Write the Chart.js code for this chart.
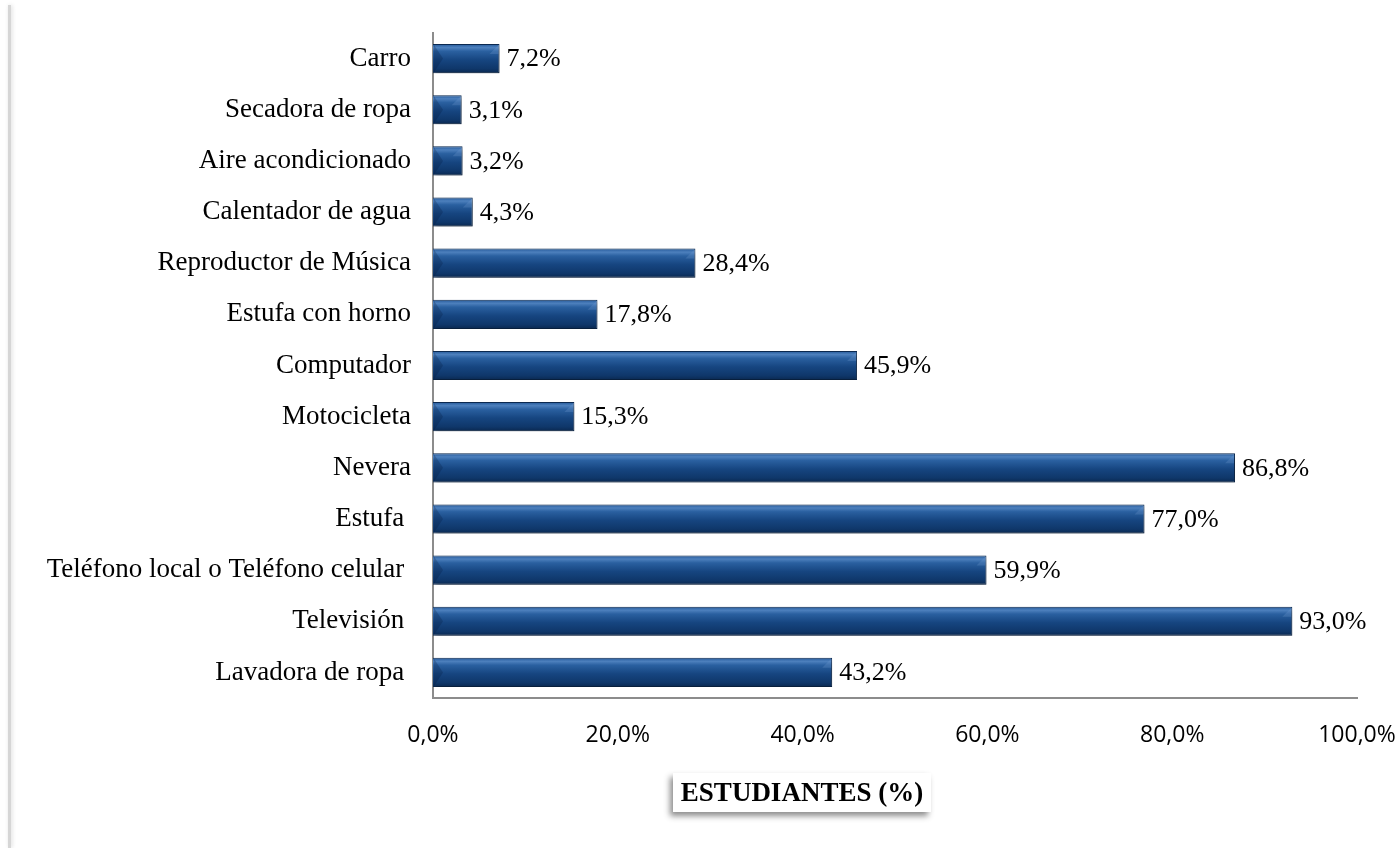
<!DOCTYPE html>
<html>
<head>
<meta charset="utf-8">
<script src="https://cdn.jsdelivr.net/npm/chart.js@4"></script>
<style>
  html, body { margin: 0; padding: 0; background: #fff; }
  #wrap { position: relative; width: 1398px; height: 848px; }
  #edge { position: absolute; left: 8px; top: 5px; width: 3px; height: 843px;
          background: #d6d6d6; box-shadow: 1px 0 4px rgba(0,0,0,0.15); }
  #ttl { position: absolute; left: 673px; top: 773px; width: 258px; height: 39px;
         background: #fff; box-shadow: -3px 4px 6px rgba(0,0,0,0.45);
         font: bold 27px "Liberation Serif", serif; color: #000;
         text-align: center; line-height: 39px; white-space: nowrap; }
</style>
</head>
<body>
<div id="wrap">
  <div id="edge"></div>
  <canvas id="chart" width="1398" height="848"></canvas>
  <div id="ttl">ESTUDIANTES (%)</div>
</div>
<script>
var categorias = ['Carro', 'Secadora de ropa', 'Aire acondicionado', 'Calentador de agua',
    'Reproductor de Música', 'Estufa con horno', 'Computador', 'Motocicleta', 'Nevera',
    'Estufa ', 'Teléfono local o Teléfono celular ', 'Televisión ', 'Lavadora de ropa '];
var valores = [7.2, 3.1, 3.2, 4.3, 28.4, 17.8, 45.9, 15.3, 86.8, 77.0, 59.9, 93.0, 43.2];
var ticksX = [0, 20, 40, 60, 80, 100];

function fmt(v) { return v.toFixed(1).replace('.', ',') + '%'; }

// gradiente vertical de cada barra, a partir de la escala y
function barFill(c) {
    var ys = c.chart.scales.y;
    if (!ys || c.dataIndex === undefined) return '#1a4a86';
    var y = ys.getPixelForValue(c.dataIndex);
    if (!isFinite(y)) return '#1a4a86';
    var h = 29;
    var g = c.chart.ctx.createLinearGradient(0, y - h / 2, 0, y + h / 2);
    g.addColorStop(0, '#24599a');
    g.addColorStop(0.12, '#4d80bd');
    g.addColorStop(0.25, '#2a60a0');
    g.addColorStop(0.55, '#164580');
    g.addColorStop(0.85, '#0f376a');
    g.addColorStop(1, '#0a2850');
    return g;
}

var sombra = {
    id: 'sombra',
    beforeDatasetsDraw: function(chart) {
        var ctx = chart.ctx;
        ctx.save();
        ctx.shadowColor = 'rgba(0,0,0,0.35)';
        ctx.shadowBlur = 5;
        ctx.shadowOffsetX = 2;
        ctx.shadowOffsetY = 3;
    },
    afterDatasetsDraw: function(chart) {
        chart.ctx.restore();
        var ctx = chart.ctx;
        var meta = chart.getDatasetMeta(0);
        ctx.save();
        // biseles en los extremos
        meta.data.forEach(function(bar) {
            var t = bar.y - bar.height / 2 + 1, b = bar.y + bar.height / 2 - 1;
            var x0 = bar.base + 1, x1 = bar.x - 1, d = Math.min(9, (x1 - x0) / 2);
            ctx.fillStyle = 'rgba(0,20,50,0.22)';
            ctx.beginPath();
            ctx.moveTo(x0, t); ctx.lineTo(x0 + d, bar.y); ctx.lineTo(x0, b);
            ctx.closePath(); ctx.fill();
            ctx.fillStyle = 'rgba(120,160,210,0.25)';
            ctx.beginPath();
            ctx.moveTo(x1, t); ctx.lineTo(x1 - d, t + d); ctx.lineTo(x1, t + d);
            ctx.closePath(); ctx.fill();
        });
        ctx.font = '26px "Liberation Serif", serif';
        ctx.fillStyle = '#000';
        ctx.textBaseline = 'middle';
        meta.data.forEach(function(bar, i) {
            ctx.fillText(fmt(valores[i]), bar.x + 7, bar.y + 1);
        });
        ctx.restore();
    }
};

new Chart('chart', {
    type: 'bar',
    data: {
        labels: categorias,
        datasets: [{
            data: valores,
            backgroundColor: barFill,
            borderColor: '#0b2a52',
            borderWidth: 1,
            barPercentage: 0.57,
            categoryPercentage: 1
        }]
    },
    options: {
        indexAxis: 'y',
        responsive: false,
        animation: false,
        layout: { padding: { top: 33, right: 41, left: 0, bottom: 0 } },
        plugins: { legend: { display: false }, tooltip: { enabled: false } },
        scales: {
            x: {
                min: 0, max: 100,
                afterFit: function(s) { s.height = 150; s.paddingLeft = 0; s.paddingRight = 0; },
                afterBuildTicks: function(s) { s.ticks = ticksX.map(function(v) { return { value: v }; }); },
                grid: { display: false, drawTicks: false },
                border: { display: true, color: '#8c8c8c', width: 2 },
                ticks: {
                    padding: 24,
                    color: '#000',
                    font: { family: '"Open Sans", sans-serif', size: 23 },
                    callback: function(v) { return fmt(v); }
                }
            },
            y: {
                afterFit: function(s) { s.width = 433; s.paddingTop = 0; s.paddingBottom = 0; },
                grid: { display: false, drawTicks: false },
                border: { display: true, color: '#8c8c8c', width: 2 },
                ticks: {
                    padding: 22,
                    color: '#000',
                    font: { family: '"Liberation Serif", serif', size: 27 }
                }
            }
        }
    },
    plugins: [sombra]
});
</script>
</body>
</html>
